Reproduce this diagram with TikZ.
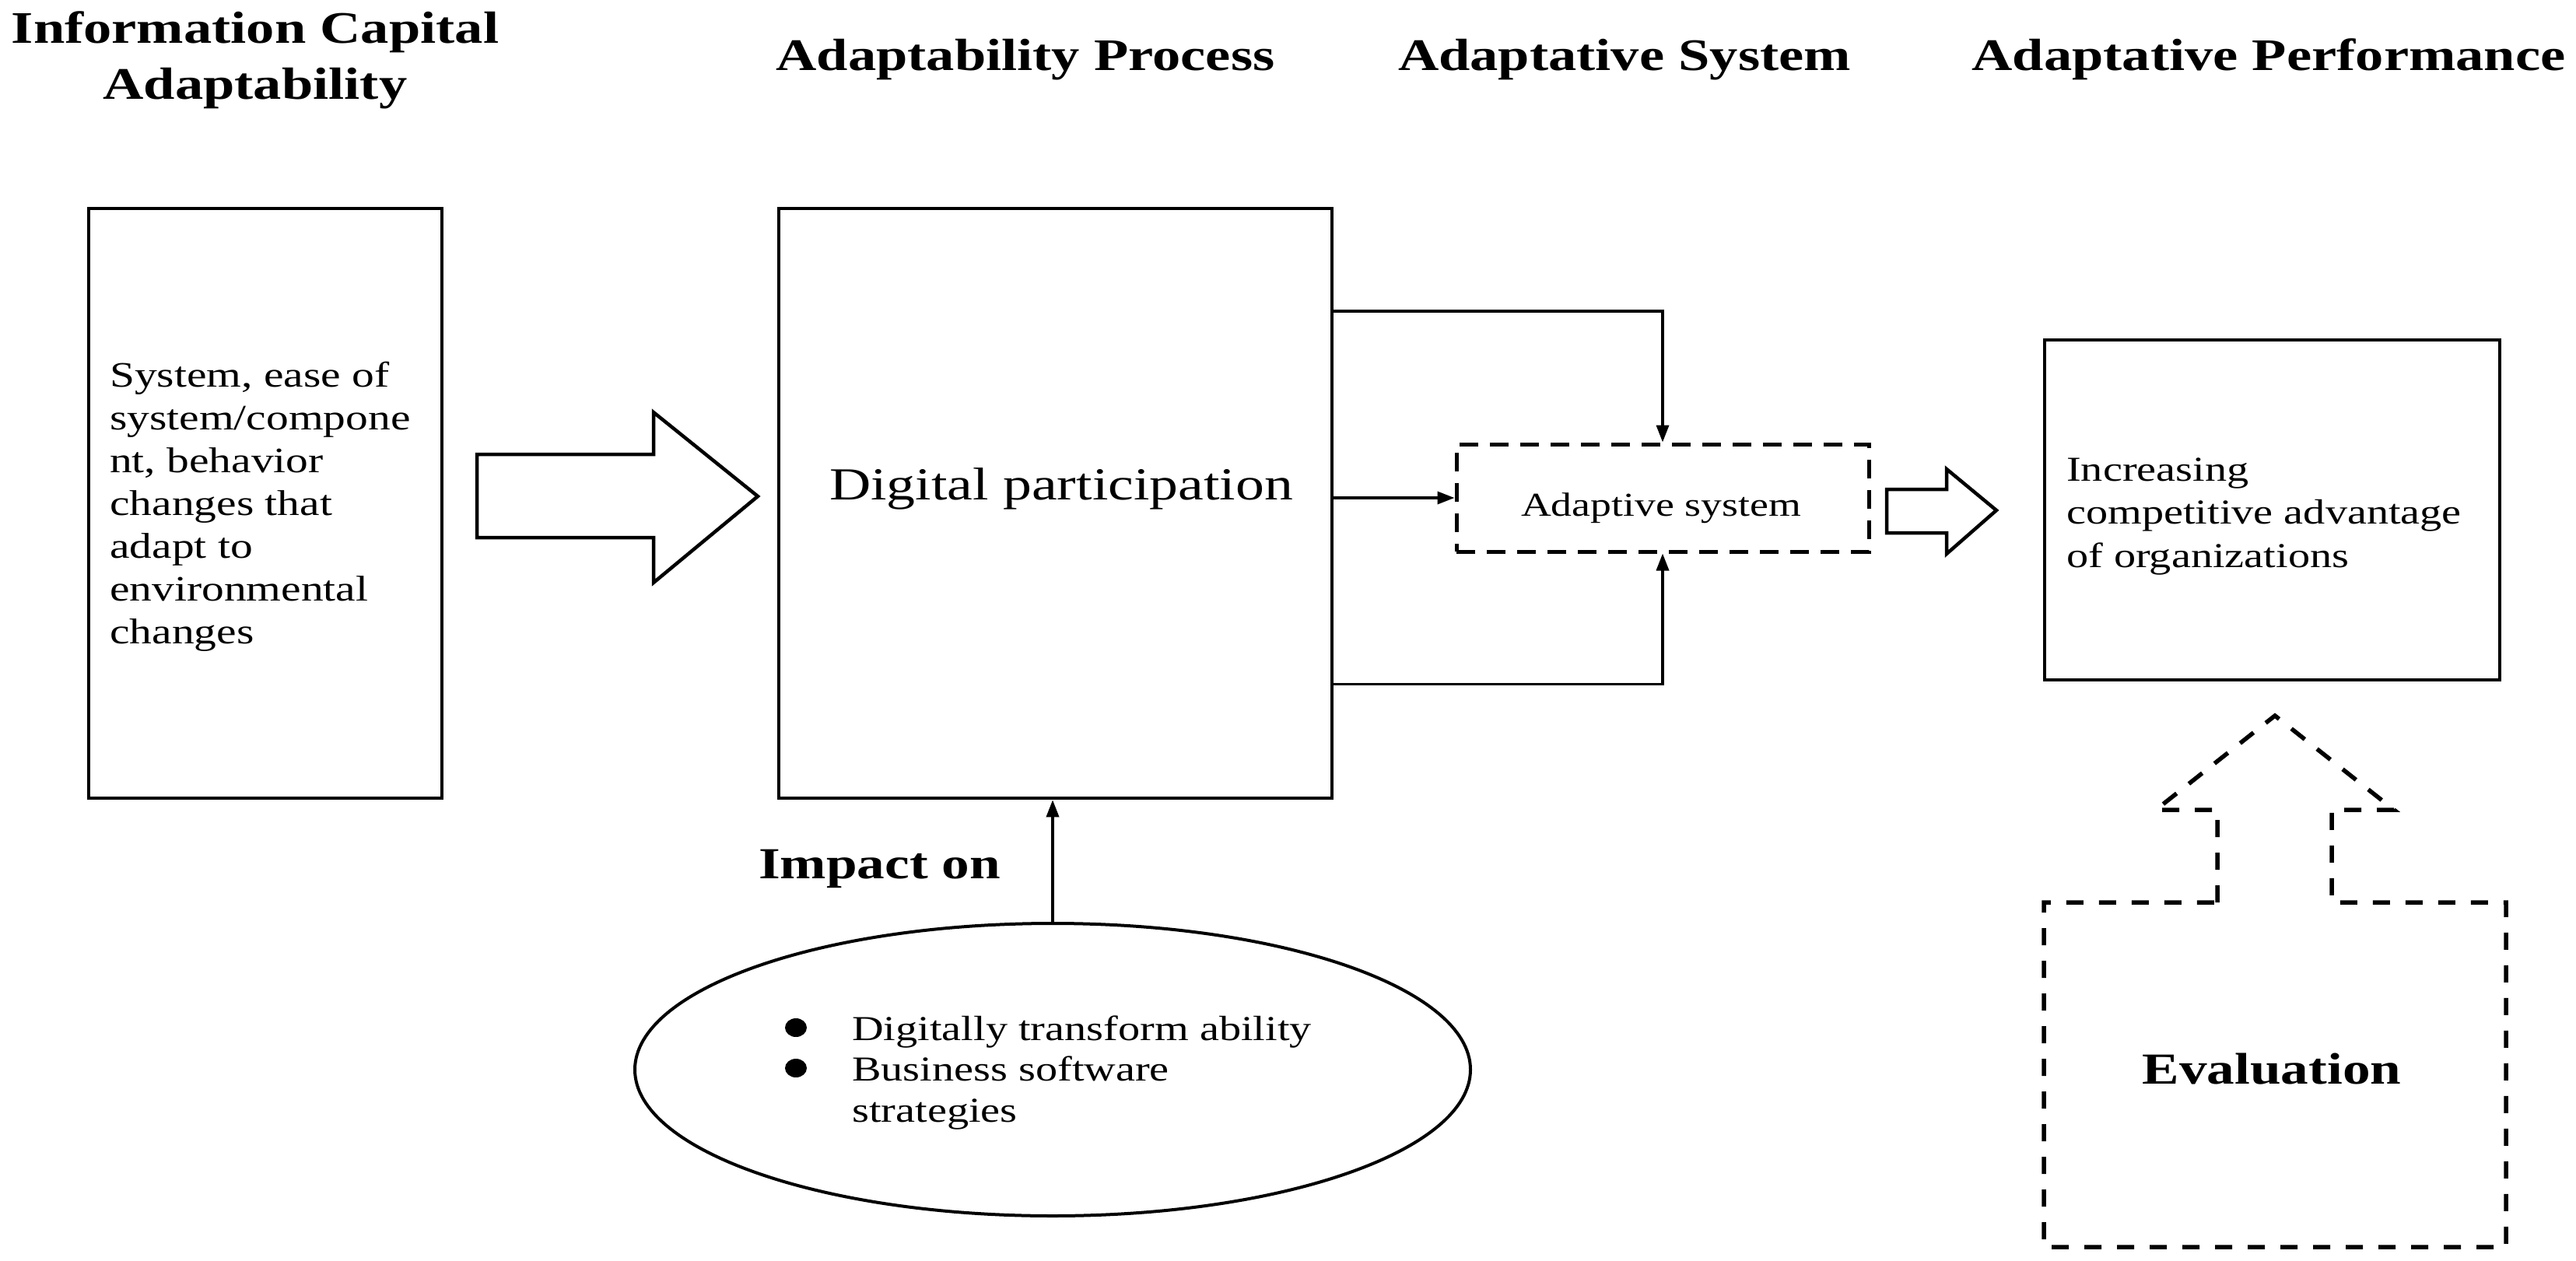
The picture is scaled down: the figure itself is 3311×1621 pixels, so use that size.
\documentclass[tikz,border=0pt]{standalone}
\usepackage{fontspec}
\setmainfont{Liberation Serif}[FakeStretch=1.25]
\usetikzlibrary{shapes.geometric,arrows.meta,calc}
\begin{document}
\begin{tikzpicture}[x=1pt,y=-1pt,
  box/.style={draw, line width=4.5pt, inner sep=0pt},
  dbox/.style={draw, line width=5pt, dash pattern=on 24pt off 15pt, inner sep=0pt},
  conn/.style={line width=3.5pt, -{Triangle[length=22pt,width=16pt]}},
  hollow/.style={draw, line width=4.5pt, fill=white, line join=miter},
  dashline/.style={draw, line width=5.5pt, dash pattern=on 22pt off 20pt},
  ttl/.style={font=\bfseries\fontsize{58}{72}\selectfont, inner sep=0pt},
  txt/.style={inner sep=0pt}]
\useasboundingbox (0,0) rectangle (3311,1621);
\fill[white] (0,0) rectangle (3311,1621);

% titles
\node[ttl, anchor=base] (t1) at (328,56) {\parbox[t]{700pt}{\centering Information Capital\\Adaptability}};
\node[ttl, anchor=base] (t2) at (1318,91) {Adaptability Process};
\node[ttl, anchor=base] (t3) at (2088,91) {Adaptative System};
\node[ttl, anchor=base] (t4) at (2916,91) {Adaptative Performance};

% boxes
\node[box, minimum width=454pt, minimum height=758pt] (lbox) at (341,647) {};
\node[box, minimum width=711pt, minimum height=758pt] (cbox) at (1356.5,647) {};
\node[dbox, minimum width=530pt, minimum height=138pt] (abox) at (2137,640) {};
\node[box, minimum width=585pt, minimum height=437pt] (rbox) at (2920.5,655.5) {};
\node[draw, ellipse, line width=4pt, minimum width=1074pt, minimum height=376pt, inner sep=0pt] (ell) at (1353,1375) {};

% texts
\node[txt, anchor=base west, font=\fontsize{46}{55}\selectfont] (ltext) at (141,497)
  {\parbox[t]{420pt}{\raggedright System, ease of\\system/compone\\nt, behavior\\changes that\\adapt to\\environmental\\changes}};
\node[txt, anchor=base, font=\fontsize{59}{70}\selectfont] (dp) at (1364,642) {Digital participation};
\node[txt, anchor=base, font=\fontsize{43}{50}\selectfont] (as) at (2135,663) {Adaptive system};
\node[txt, anchor=base west, font=\fontsize{45}{55.5}\selectfont] (rtext) at (2656,618)
  {\parbox[t]{560pt}{\raggedright Increasing\\competitive advantage\\of organizations}};
\node[txt, anchor=base west, font=\bfseries\fontsize{57}{68}\selectfont] (imp) at (975,1129) {Impact on};
\node[txt, anchor=base west, font=\fontsize{45}{52.5}\selectfont] (etext) at (1095,1337)
  {\parbox[t]{600pt}{\raggedright Digitally transform ability\\Business software\\strategies}};
\fill (1023,1321) ellipse [x radius=14, y radius=12];
\fill (1023,1373) ellipse [x radius=14, y radius=12];
\node[txt, anchor=base, font=\bfseries\fontsize{57}{68}\selectfont] (ev) at (2920,1393) {Evaluation};

% connectors
\draw[conn] ($(cbox.north east)+(0,134)$) -| (abox.north);
\draw[conn] (cbox.east |- abox.west) -- (abox.west);
\draw[conn] ($(cbox.south east)+(0,-149)$) -| (abox.south);
\draw[conn] (ell.north) -- (ell.north |- cbox.south);

% hollow arrows
\draw[hollow] (613,584) -- (840,584) -- (840,530) -- (974,638) -- (840,749) -- (840,691) -- (613,691) -- cycle;
\draw[hollow] (2425,629) -- (2502,629) -- (2502,603) -- (2566,656) -- (2502,712) -- (2502,685) -- (2425,685) -- cycle;

% evaluation outline
\draw[dashline] (2850,1160) -- (2850,1041) -- (2771,1041) -- (2924,920) -- (3077,1041) -- (2997,1041) -- (2997,1160) -- (3221,1160) -- (3221,1603) -- (2627,1603) -- (2627,1160) -- cycle;
\end{tikzpicture}
\end{document}
